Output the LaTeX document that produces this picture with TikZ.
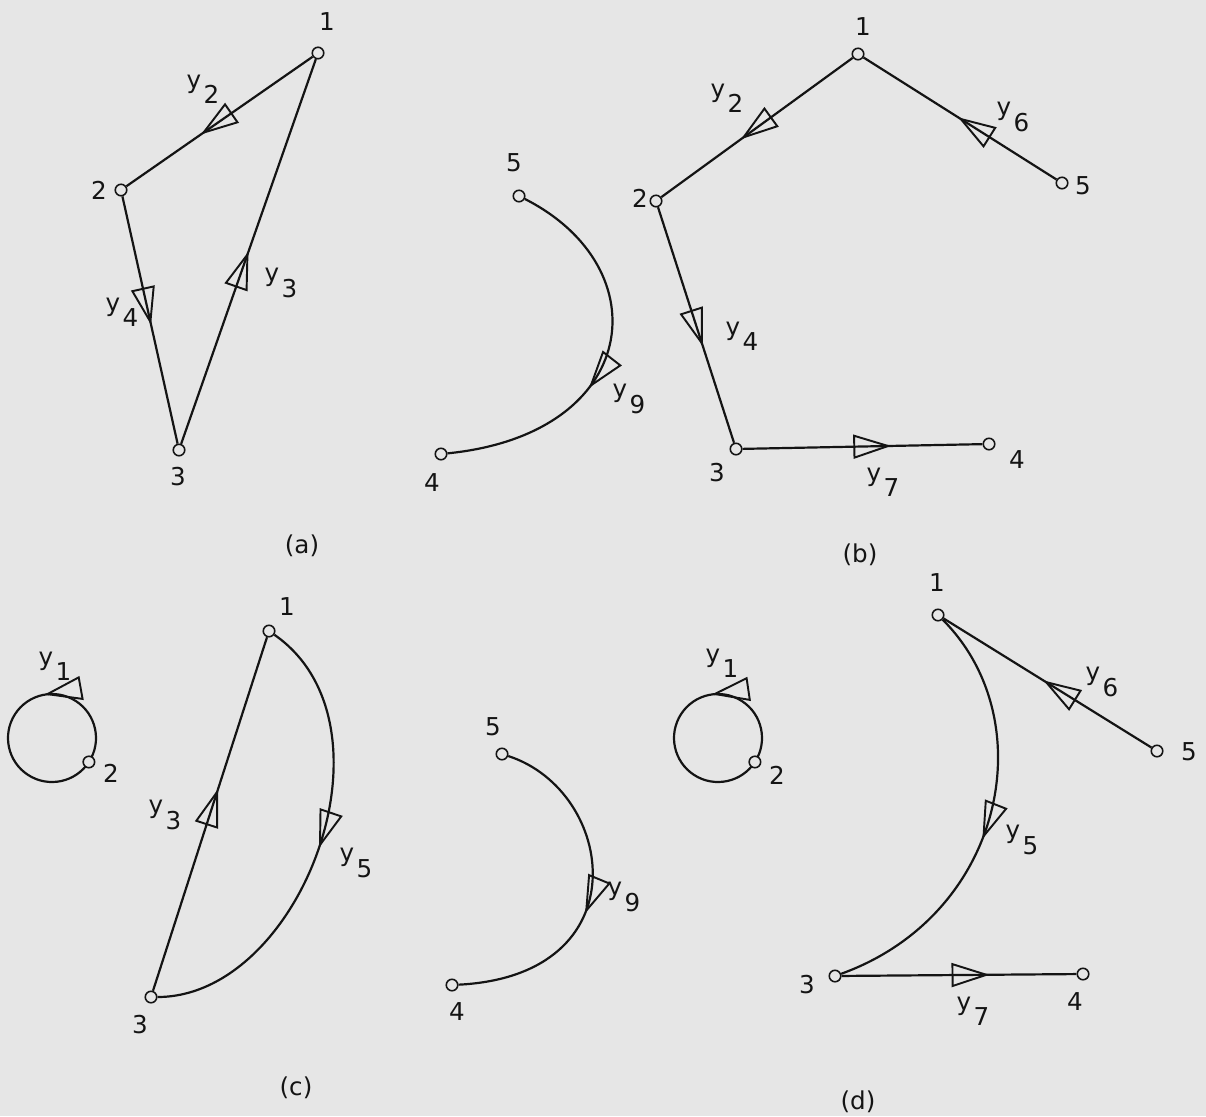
\documentclass[tikz,border=0pt]{standalone}
\usepackage{fontspec}
\setmainfont{DejaVu Sans}
\usetikzlibrary{arrows.meta,decorations.markings,calc}
\definecolor{paper}{RGB}{230,230,230}
\definecolor{ink}{RGB}{20,20,20}
\pgfdeclarelayer{paperlayer}
\pgfdeclarelayer{edges}
\pgfsetlayers{paperlayer,edges,main}
\newcommand\yy[1]{y\kern0.1em\raisebox{-0.62em}{#1}}
\begin{document}
\begin{tikzpicture}[x=0.02cm,y=0.02cm,
  vert/.style={circle,draw=ink,fill=paper,inner sep=0pt,minimum size=0.23cm,line width=0.9pt},
  lbl/.style={inner sep=0pt,text=ink,font=\fontsize{14}{16}\selectfont},
  edge/.style={draw=ink,line width=1.25pt},
  arrowat/.style={postaction={decorate},decoration={markings,mark=at position #1 with {\arrow[ink,line width=1.1pt]{Triangle[open,length=0.76cm,width=0.48cm]}}}}]
\useasboundingbox (0,0) rectangle (1206,-1116);
\begin{pgfonlayer}{paperlayer}
\fill[paper] (0,0) rectangle (1206,-1116);
\end{pgfonlayer}

% ---------- panel (a) ----------
\node[vert] (a1) at (318,-53) {};
\node[vert] (a2) at (121,-190) {};
\node[vert] (a3) at (179,-450) {};
\node[vert] (a5) at (519,-196) {};
\node[vert] (a4) at (441,-454) {};
\node[lbl] (la1) at (327,-22) {1};
\node[lbl] (la2) at (99,-190) {2};
\node[lbl] (la3) at (178,-477) {3};
\node[lbl] (la5) at (514,-163) {5};
\node[lbl] (la4) at (432,-483) {4};
\node[lbl] (ya2) at (203,-89) {\yy{2}};
\node[lbl] (ya3) at (281,-283) {\yy{3}};
\node[lbl] (ya4) at (122,-312) {\yy{4}};
\node[lbl] (ya9) at (629,-399) {\yy{9}};
\node[lbl] (capa) at (302,-546) {(a)};

% ---------- panel (b) ----------
\node[vert] (b1) at (858,-54) {};
\node[vert] (b2) at (656,-201) {};
\node[vert] (b5) at (1062,-183) {};
\node[vert] (b3) at (736,-449) {};
\node[vert] (b4) at (989,-444) {};
\node[lbl] (lb1) at (863,-27) {1};
\node[lbl] (lb2) at (640,-198) {2};
\node[lbl] (lb5) at (1083,-186) {5};
\node[lbl] (lb3) at (717,-473) {3};
\node[lbl] (lb4) at (1017,-460) {4};
\node[lbl] (yb2) at (727,-98) {\yy{2}};
\node[lbl] (yb6) at (1013,-117) {\yy{6}};
\node[lbl] (yb4) at (742,-336) {\yy{4}};
\node[lbl] (yb7) at (883,-482) {\yy{7}};
\node[lbl] (capb) at (860,-555) {(b)};

% ---------- panel (c) ----------
\coordinate (lc) at (52,-738);
\node[vert] (c2) at ($(lc)+(-33:44)$) {};
\node[vert] (c1) at (269,-631) {};
\node[vert] (c3) at (151,-997) {};
\node[vert] (c5) at (502,-754) {};
\node[vert] (c4) at (452,-985) {};
\node[lbl] (lc2) at (111,-773) {2};
\node[lbl] (lc1) at (287,-607) {1};
\node[lbl] (lc3) at (140,-1025) {3};
\node[lbl] (lc5) at (493,-727) {5};
\node[lbl] (lc4) at (457,-1012) {4};
\node[lbl] (yc1) at (55,-666) {\yy{1}};
\node[lbl] (yc3) at (165,-815) {\yy{3}};
\node[lbl] (yc5) at (356,-863) {\yy{5}};
\node[lbl] (yc9) at (624,-897) {\yy{9}};
\node[lbl] (capc) at (296,-1088) {(c)};

% ---------- panel (d) ----------
\coordinate (ld) at (718,-738);
\node[vert] (d2) at ($(ld)+(-33:44)$) {};
\node[vert] (d1) at (938,-615) {};
\node[vert] (d5) at (1157,-751) {};
\node[vert] (d3) at (835,-976) {};
\node[vert] (d4) at (1083,-974) {};
\node[lbl] (ld2) at (777,-775) {2};
\node[lbl] (ld1) at (937,-583) {1};
\node[lbl] (ld5) at (1189,-752) {5};
\node[lbl] (ld3) at (807,-985) {3};
\node[lbl] (ld4) at (1075,-1002) {4};
\node[lbl] (yd1) at (722,-663) {\yy{1}};
\node[lbl] (yd6) at (1102,-682) {\yy{6}};
\node[lbl] (yd5) at (1022,-840) {\yy{5}};
\node[lbl] (yd7) at (973,-1011) {\yy{7}};
\node[lbl] (capd) at (858,-1102) {(d)};

\begin{pgfonlayer}{edges}
% (a)
\draw[edge,arrowat=0.6] (a1) -- (a2);
\draw[edge,arrowat=0.5] (a3) -- (a1);
\draw[edge,arrowat=0.52] (a2) -- (a3);
\draw[edge,arrowat=0.59] (a5) .. controls (661,-268) and (641,-434) .. (a4);
% (b)
\draw[edge,arrowat=0.584] (b1) -- (b2);
\draw[edge,arrowat=0.51] (b5) -- (b1);
\draw[edge,arrowat=0.59] (b2) -- (b3);
\draw[edge,arrowat=0.62] (b3) -- (b4);
% (c)
\draw[edge,arrowat=0.37] (c2.center) arc[start angle=-33,end angle=327,radius=44];
\draw[edge,arrowat=0.571] (c3) -- (c1);
\draw[edge,arrowat=0.5] (c1) .. controls (404,-725) and (301,-997) .. (c3);
\draw[edge,arrowat=0.56] (c5) .. controls (616,-791) and (642,-975.5) .. (c4);
% (d)
\draw[edge,arrowat=0.365] (d2.center) arc[start angle=-33,end angle=327,radius=44];
\draw[edge,arrowat=0.52] (d5) -- (d1);
\draw[edge,arrowat=0.54] (d1) .. controls (1044,-721) and (1004,-915) .. (d3);
\draw[edge,arrowat=0.63] (d3) -- (d4);
\end{pgfonlayer}
\end{tikzpicture}
\end{document}
